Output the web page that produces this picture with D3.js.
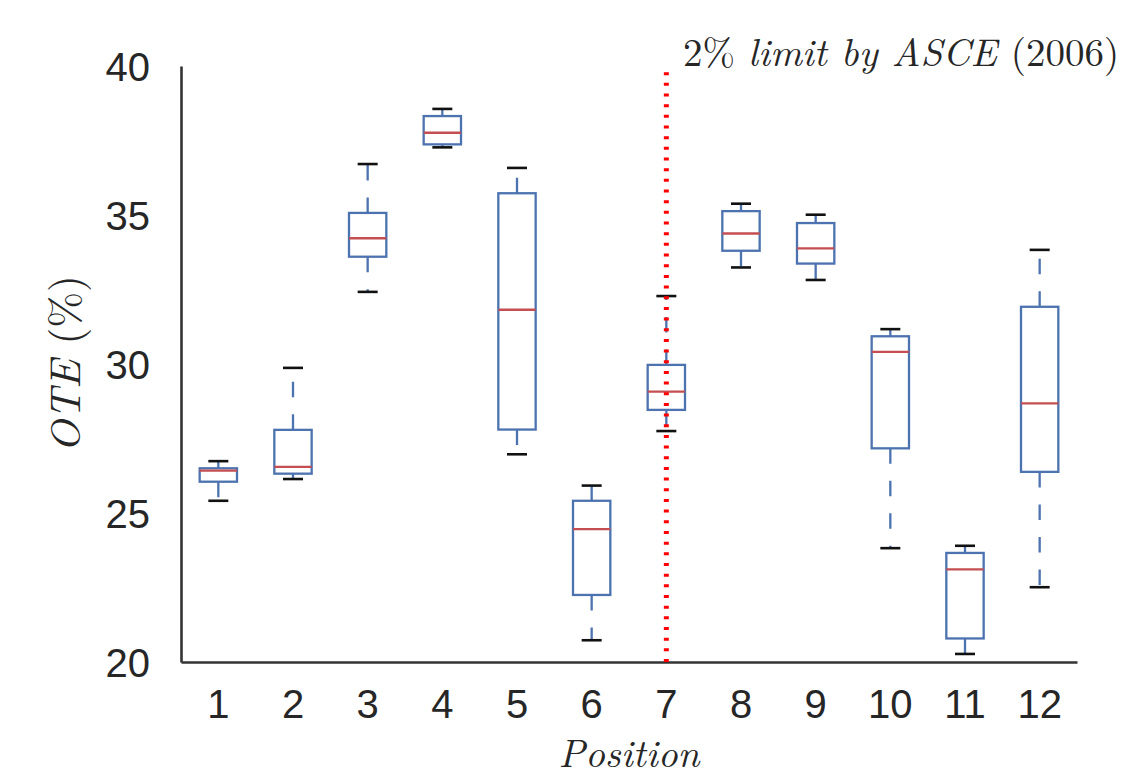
<!DOCTYPE html>
<html>
<head>
<meta charset="utf-8">
<script src="https://cdn.jsdelivr.net/npm/d3@7"></script>
<style>
  body { margin: 0; background: #fff; }
  svg { display: block; }
</style>
</head>
<body>
<svg id="chart"></svg>
<script>
// values, one entry per position
const positions   = [1, 2, 3, 4, 5, 6, 7, 8, 9, 10, 11, 12];
const whiskerHigh = [26.74, 29.87, 36.71, 38.56, 36.58, 25.92, 32.28, 35.38, 35.01, 31.17, 23.90, 33.83];
const q3          = [26.50, 27.79, 35.07, 38.32, 35.73, 25.41, 29.97, 35.13, 34.73, 30.93, 23.66, 31.92];
const medians     = [26.42, 26.55, 34.22, 37.76, 31.82, 24.46, 29.07, 34.38, 33.88, 30.41, 23.11, 28.68];
const q1          = [26.05, 26.32, 33.60, 37.37, 27.80, 22.25, 28.46, 33.80, 33.37, 27.17, 20.79, 26.38];
const whiskerLow  = [25.41, 26.14, 32.42, 37.27, 26.97, 20.73, 27.75, 33.24, 32.82, 23.82, 20.27, 22.51];
const yTicks      = [20, 25, 30, 35, 40];
const limitPosition = 7;

const width = 1124, height = 782;
const margin = {top: 66, right: 47, bottom: 120, left: 181};
const innerW = width - margin.left - margin.right;
const innerH = height - margin.top - margin.bottom;

const boxes = positions.map((p, i) => ({
  pos: p, lo: whiskerLow[i], q1: q1[i], med: medians[i], q3: q3[i], hi: whiskerHigh[i]
}));

const svg = d3.select('#chart')
  .attr('width', width)
  .attr('height', height);

const chart = svg.append('g')
  .attr('transform', `translate(${margin.left},${margin.top})`);

const x = d3.scaleBand()
  .domain(positions)
  .range([0, innerW]);

const y = d3.scaleLinear()
  .domain([20, 40])
  .range([innerH, 0]);

const boxW = x.bandwidth() * 0.5;
const capW = 20;
const blue = '#4c72b0';
const red = '#c44e52';

// axes
const xAxis = d3.axisBottom(x).tickSize(0).tickSizeOuter(0).tickPadding(27);
const yAxis = d3.axisLeft(y).tickValues(yTicks).tickSize(0).tickSizeOuter(0).tickPadding(31);

const xAxisG = chart.append('g')
  .attr('transform', `translate(0,${innerH})`)
  .call(xAxis);
const yAxisG = chart.append('g')
  .call(yAxis);

[xAxisG, yAxisG].forEach(g => {
  g.select('.domain').attr('stroke', '#333').attr('stroke-width', 2.6);
  g.selectAll('text')
    .attr('fill', '#262626')
    .style('font-family', '"Liberation Sans", Arial, sans-serif')
    .style('font-size', '40px');
});
xAxisG.selectAll('text').attr('dy', '0.72em');
yAxisG.selectAll('text').attr('dy', '0.36em');

// boxes
const bg = chart.selectAll('.box')
  .data(boxes)
  .join('g')
  .attr('class', 'box')
  .attr('transform', d => `translate(${x(d.pos) + x.bandwidth() / 2},0)`);

// whiskers, dashed, drawn from the box outward
bg.append('line')
  .attr('x1', 0).attr('x2', 0)
  .attr('y1', d => y(d.q3)).attr('y2', d => y(d.hi))
  .attr('stroke', blue).attr('stroke-width', 2.3)
  .attr('stroke-dasharray', '15.5,17');
bg.append('line')
  .attr('x1', 0).attr('x2', 0)
  .attr('y1', d => y(d.q1)).attr('y2', d => y(d.lo))
  .attr('stroke', blue).attr('stroke-width', 2.3)
  .attr('stroke-dasharray', '15.5,17');

// caps
bg.append('line')
  .attr('x1', -capW / 2).attr('x2', capW / 2)
  .attr('y1', d => y(d.hi)).attr('y2', d => y(d.hi))
  .attr('stroke', '#111').attr('stroke-width', 2.6);
bg.append('line')
  .attr('x1', -capW / 2).attr('x2', capW / 2)
  .attr('y1', d => y(d.lo)).attr('y2', d => y(d.lo))
  .attr('stroke', '#111').attr('stroke-width', 2.6);

bg.append('rect')
  .attr('x', -boxW / 2)
  .attr('width', boxW)
  .attr('y', d => y(d.q3))
  .attr('height', d => y(d.q1) - y(d.q3))
  .attr('fill', 'none')
  .attr('stroke', blue)
  .attr('stroke-width', 2.3);

bg.append('line')
  .attr('x1', -boxW / 2).attr('x2', boxW / 2)
  .attr('y1', d => y(d.med)).attr('y2', d => y(d.med))
  .attr('stroke', red).attr('stroke-width', 2.3);

// limit line
const lx = x(limitPosition) + x.bandwidth() / 2;
chart.append('line')
  .attr('x1', lx).attr('x2', lx)
  .attr('y1', y(20)).attr('y2', y(40))
  .attr('stroke', '#ff0000')
  .attr('stroke-width', 5)
  .attr('stroke-dasharray', '3,7.67');

// labels
const serif = '"Latin Modern Roman", "CMU Serif", "DejaVu Serif", serif';

const note = svg.append('text')
  .attr('x', 683)
  .attr('y', 66)
  .attr('fill', '#262626')
  .style('font-family', serif)
  .style('font-size', '39px');
note.append('tspan').text('2% ');
note.append('tspan').style('font-style', 'italic').text('limit by ASCE ');
note.append('tspan').text('(2006)');

const yl = svg.append('text')
  .attr('transform', `translate(80,${margin.top + innerH / 2}) rotate(-90)`)
  .attr('text-anchor', 'middle')
  .attr('fill', '#262626')
  .style('font-family', serif)
  .style('font-size', '43px');
yl.append('tspan').style('font-style', 'italic').text('OTE ');
yl.append('tspan').text('(%)');

svg.append('text')
  .attr('x', margin.left + innerW / 2)
  .attr('y', 767)
  .attr('text-anchor', 'middle')
  .attr('fill', '#262626')
  .style('font-family', serif)
  .style('font-style', 'italic')
  .style('font-size', '39px')
  .text('Position');
</script>
</body>
</html>
